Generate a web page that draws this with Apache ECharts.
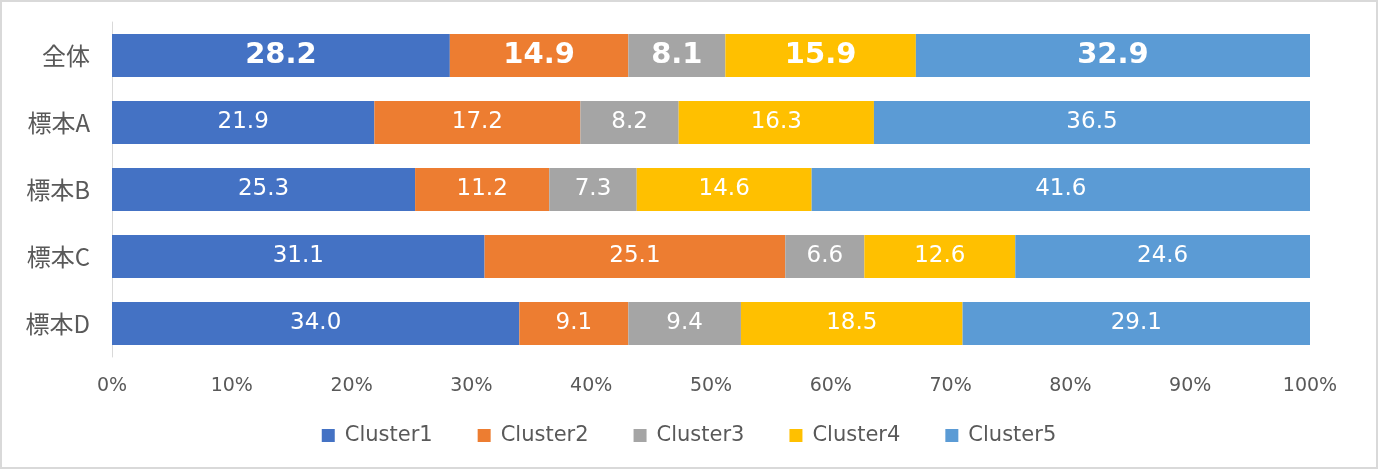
<!DOCTYPE html>
<html>
<head>
<meta charset="utf-8">
<script src="https://cdn.jsdelivr.net/npm/echarts@6/dist/echarts.min.js"></script>
<style>
  html, body { margin: 0; padding: 0; background: #fff; }
  #chart { width: 1374px; height: 465px; border: 2px solid #d9d9d9; }
</style>
</head>
<body>
<div id="chart"></div>
<script>
const categories = ['全体', '標本A', '標本B', '標本C', '標本D']
const seriesNames = ['Cluster1', 'Cluster2', 'Cluster3', 'Cluster4', 'Cluster5']
const cluster1 = [28.2, 21.9, 25.3, 31.1, 34.0]
const cluster2 = [14.9, 17.2, 11.2, 25.1, 9.1]
const cluster3 = [8.1, 8.2, 7.3, 6.6, 9.4]
const cluster4 = [15.9, 16.3, 14.6, 12.6, 18.5]
const cluster5 = [32.9, 36.5, 41.6, 24.6, 29.1]
const colors = ['#4472C4', '#ED7D31', '#A5A5A5', '#FFC000', '#5B9BD5']

const values = [cluster1, cluster2, cluster3, cluster4, cluster5]
const cjk = '"Noto Sans CJK JP", sans-serif'
const latin = '"DejaVu Sans", sans-serif'

const chart = echarts.init(document.getElementById('chart'))

const series = seriesNames.map((name, si) => ({
  name,
  type: 'bar',
  stack: 'total',
  barWidth: '64%',
  itemStyle: { color: colors[si] },
  label: {
    show: true,
    position: 'inside',
    color: '#fff',
    fontFamily: latin,
    fontSize: 23,
    formatter: p => p.value.toFixed(1)
  },
  data: values[si].map((v, ci) => ci === 0 ? {
    value: v,
    label: { fontSize: 29, fontWeight: 'bold' }
  } : v)
}))

chart.setOption({
  animation: false,
  grid: { left: 110, right: 66, top: 20, bottom: 110 },
  legend: {
    bottom: 16,
    left: 'center',
    itemWidth: 13,
    itemHeight: 13,
    itemGap: 45,
    icon: 'rect',
    textStyle: { color: '#595959', fontSize: 21, fontFamily: latin, padding: [0, 0, 0, 5] },
    data: seriesNames
  },
  xAxis: {
    type: 'value',
    min: 0,
    max: 100,
    interval: 10,
    axisLine: { show: false },
    axisTick: { show: false },
    splitLine: { show: false },
    axisLabel: {
      color: '#595959',
      fontSize: 19,
      fontFamily: latin,
      margin: 20,
      formatter: v => v + '%'
    }
  },
  yAxis: {
    type: 'category',
    inverse: true,
    data: categories,
    axisLine: { show: true, lineStyle: { color: '#d9d9d9', width: 1 } },
    axisTick: { show: false },
    axisLabel: { color: '#595959', fontSize: 24, fontFamily: cjk, margin: 22 }
  },
  series
})
</script>
</body>
</html>
